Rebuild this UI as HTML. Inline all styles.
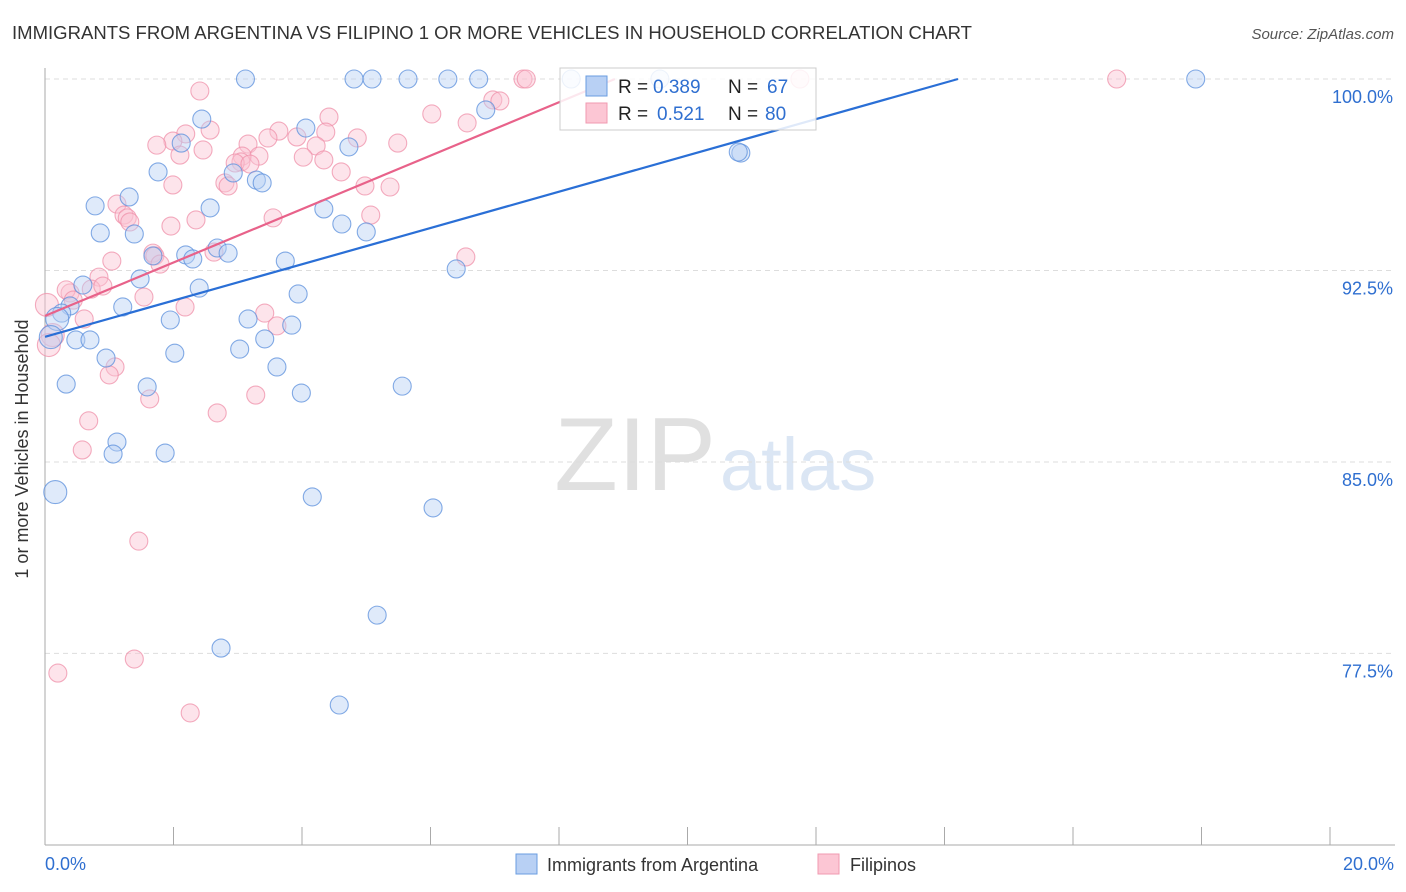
<!DOCTYPE html>
<html><head><meta charset="utf-8"><style>
body{margin:0;background:#fff;font-family:"Liberation Sans",sans-serif;}
#wrap{position:relative;width:1406px;height:892px;overflow:hidden;}
svg text{font-family:"Liberation Sans",sans-serif;}
</style></head><body>
<div id="wrap">
<svg id="chart" width="1406" height="892">
<text x="12" y="39" font-size="18" fill="#333" textLength="960" lengthAdjust="spacingAndGlyphs">IMMIGRANTS FROM ARGENTINA VS FILIPINO 1 OR MORE VEHICLES IN HOUSEHOLD CORRELATION CHART</text>
<text x="1394" y="39" font-size="15" fill="#555" font-style="italic" text-anchor="end">Source: ZipAtlas.com</text>
<text x="716" y="490" font-size="104" fill="#e0e0e0" text-anchor="end" font-family="Liberation Serif">ZIP</text>
<text x="720" y="490" font-size="74" fill="#dbe6f4">atlas</text>
<g id="grid"></g>
<line x1="45" y1="68" x2="45" y2="845" stroke="#aaa"/>
<line x1="45" y1="845" x2="1395" y2="845" stroke="#aaa"/>
<g id="xticks"></g>
<text x="34" y="455" font-size="18" fill="#333" text-anchor="middle" transform="rotate(-90 28 455)">1 or more Vehicles in Household</text>
<g id="pts"></g>
<g id="lines"></g>
<rect x="560" y="68" width="256" height="62" fill="#fff" fill-opacity="0.85" stroke="#ccc"/>
<rect x="586" y="76" width="21" height="20" fill="#b8d0f4" stroke="#6a9de0"/>
<rect x="586" y="103" width="21" height="20" fill="#fcc6d4" stroke="#f09ab0"/>
<text y="93" font-size="19"><tspan x="618" fill="#222">R = </tspan><tspan x="653" fill="#2f6fd0">0.389</tspan><tspan x="728" fill="#222">N = </tspan><tspan x="767" fill="#2f6fd0">67</tspan></text>
<text y="120" font-size="19"><tspan x="618" fill="#222">R = </tspan><tspan x="657" fill="#2f6fd0">0.521</tspan><tspan x="728" fill="#222">N = </tspan><tspan x="765" fill="#2f6fd0">80</tspan></text>
<text x="45" y="870" font-size="18" fill="#2f6fd0">0.0%</text>
<text x="1394" y="870" font-size="18" fill="#2f6fd0" text-anchor="end">20.0%</text>
<rect x="516" y="854" width="21" height="20" fill="#b8d0f4" stroke="#6a9de0"/>
<text x="547" y="871" font-size="18" fill="#333">Immigrants from Argentina</text>
<rect x="818" y="854" width="21" height="20" fill="#fcc6d4" stroke="#f09ab0"/>
<text x="850" y="871" font-size="18" fill="#333">Filipinos</text>
</svg>
</div>
<script>
const yTicks=[100,92.5,85,77.5];
const yTickLabels=["100.0%","92.5%","85.0%","77.5%"];
const xTicks=[0,2,4,6,8,10,12,14,16,18,20];
const blueX=[3.12,4.81,5.09,5.65,6.27,6.75,8.19,9.57,17.91,2.44,2.12,6.86,4.06,4.73,10.83,10.79,1.76,2.93,3.29,3.38,1.31,0.78,2.57,4.34,4.62,5.00,0.86,1.39,2.68,2.85,2.19,2.30,1.68,3.74,6.40,1.48,0.59,2.40,3.94,1.21,0.39,0.26,0.19,3.16,1.95,3.84,3.42,0.48,0.70,0.09,3.03,2.02,0.95,3.61,0.33,1.59,5.56,3.99,1.12,1.06,1.87,0.16,4.16,6.04,5.17,2.74,4.58];
const blueY=[100,100,100,100,100,100,100,100,100,98.43,97.49,98.79,98.08,97.34,97.10,97.14,96.36,96.32,96.04,95.93,95.38,95.03,94.95,94.91,94.32,94.01,93.97,93.93,93.38,93.18,93.11,92.95,93.07,92.87,92.56,92.17,91.93,91.81,91.58,91.07,91.11,90.83,90.60,90.60,90.56,90.36,89.82,89.78,89.78,89.89,89.42,89.26,89.07,88.72,88.05,87.94,87.97,87.70,85.78,85.31,85.35,83.82,83.63,83.20,79.00,77.71,75.48];
const pinkX=[16.68,11.75,7.44,7.49,2.41,6.97,7.08,6.02,4.42,6.57,2.57,3.64,2.19,3.92,1.99,3.47,4.37,4.86,3.16,5.49,1.74,4.22,2.46,2.10,3.07,4.02,3.33,3.05,4.34,2.96,3.19,4.61,2.80,1.99,2.85,4.98,5.37,1.12,1.23,1.28,1.32,3.55,5.07,2.35,1.96,1.68,1.71,1.79,2.63,6.55,1.04,0.84,0.72,0.39,0.33,0.90,1.54,0.44,2.18,0.03,3.42,3.61,0.61,0.12,0.06,1.09,1.00,1.63,3.28,2.68,0.68,0.58,1.46,1.39,0.20,2.26];
const pinkY=[100,100,100,100,99.53,99.18,99.14,98.63,98.51,98.28,98.00,97.96,97.85,97.73,97.57,97.69,97.92,97.69,97.45,97.49,97.41,97.38,97.22,97.02,96.98,96.94,96.98,96.75,96.83,96.71,96.67,96.36,95.93,95.85,95.81,95.81,95.77,95.10,94.67,94.56,94.40,94.56,94.67,94.48,94.24,93.18,93.07,92.75,93.22,93.03,92.87,92.24,91.77,91.62,91.74,91.89,91.46,91.34,91.07,91.15,90.83,90.33,90.60,89.97,89.58,88.72,88.41,87.47,87.62,86.92,86.61,85.47,81.90,77.28,76.73,75.17];
const blueTrend=[89.9,100];
const blueTrendX=[0,14.21];
const pinkTrend=[90.72,100];
const pinkTrendX=[0,8.87];
const NS="http://www.w3.org/2000/svg";
function sx(v){return 45+v*64.25;}
function sy(v){return 79+(100-v)*25.53;}
function mk(t,a,p){const e=document.createElementNS(NS,t);for(const k in a)e.setAttribute(k,a[k]);p.appendChild(e);return e;}
const grid=document.getElementById('grid');
yTicks.forEach((t,i)=>{
  const l=mk('line',{x1:45,x2:1395,y1:sy(t),y2:sy(t),stroke:'#ddd','stroke-dasharray':'5,4'},grid);
  
  
  const tx=mk('text',{x:1393,y:sy(t)+24,'font-size':18,fill:'#2f6fd0','text-anchor':'end'},grid);
  tx.textContent=yTickLabels[i];
  
  
});
const xt=document.getElementById('xticks');
xTicks.forEach(t=>{
  const l=mk('line',{x1:sx(t),x2:sx(t),y1:827,y2:845,stroke:'#aaa'},xt);
  
  
});
const pts=document.getElementById('pts');
function drawPts(X,Y,fill,stroke,name){
  X.forEach((x,i)=>{
    const big=x<0.2;
    const c=mk('circle',{cx:sx(x),cy:sy(Y[i]),r:big?11.5:9,fill:fill,'fill-opacity':0.45,stroke:stroke,'stroke-width':1.1,'stroke-opacity':0.75},pts);
    
    
  });
}
drawPts(pinkX,pinkY,'#fbc3d2','#ef90aa','point-filipinos');
drawPts(blueX,blueY,'#b9d1f3','#5b8fdc','point-argentina');
const lg=document.getElementById('lines');
const bl=mk('line',{x1:sx(blueTrendX[0]),y1:sy(blueTrend[0]),x2:sx(blueTrendX[1]),y2:sy(blueTrend[1]),stroke:'#2a6fd6','stroke-width':2.2},lg);


const pl=mk('line',{x1:sx(pinkTrendX[0]),y1:sy(pinkTrend[0]),x2:sx(pinkTrendX[1]),y2:sy(pinkTrend[1]),stroke:'#e8628a','stroke-width':2.2},lg);


</script>
</body></html>
